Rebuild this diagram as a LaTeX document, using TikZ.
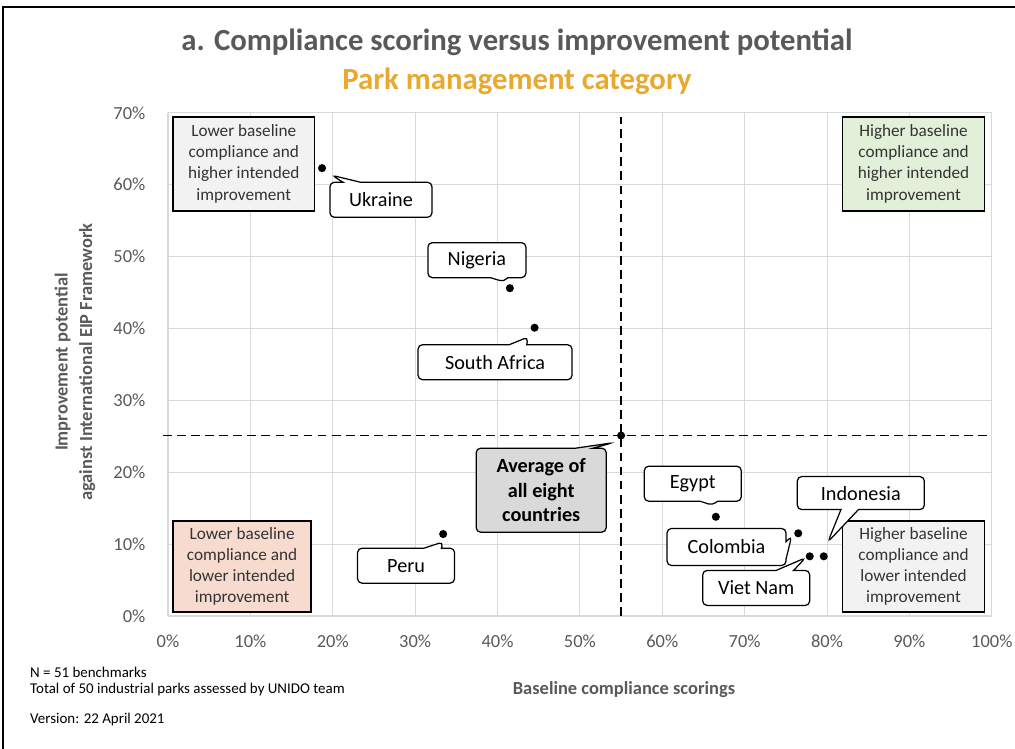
\documentclass[tikz,border=0pt]{standalone}
\usepackage{fontspec}
\setmainfont{Carlito}
\usepackage{tikz}
\usetikzlibrary{shapes.callouts,positioning}
\definecolor{txtgray}{HTML}{595959}
\definecolor{gridgray}{HTML}{D9D9D9}
\definecolor{parkgold}{RGB}{233,168,46}
\definecolor{boxgray}{HTML}{F2F2F2}
\definecolor{boxgreen}{HTML}{E2F0D9}
\definecolor{boxpeach}{RGB}{247,219,207}
\definecolor{avggray}{HTML}{D9D9D9}

\begin{document}
\begin{tikzpicture}[x=0.02cm, y=0.02cm,
      quad/.style={draw, line width=0.8pt, align=center, inner sep=0pt, minimum width=2.84cm, minimum height=1.88cm, text=black!80, font=\fontsize{9.8}{12}\selectfont},
      callbox/.style={rectangle callout, draw, fill=white, line width=0.7pt, rounded corners=2.5pt, callout pointer width=0.35cm, inner sep=0pt, minimum height=0.7cm, font=\fontsize{11.5}{14}\selectfont},
      dot/.style={circle, fill=black, inner sep=0pt, minimum size=4.6pt},
      ticklbl/.style={text=txtgray, font=\fontsize{10.5}{12}\selectfont},
      axtitle/.style={text=txtgray, align=center, font=\fontsize{10.5}{14}\selectfont\bfseries},
      note/.style={anchor=west, font=\fontsize{8.5}{10}\selectfont},
      avdash/.style={dash pattern=on 5pt off 3pt, line width=0.9pt}]
    \useasboundingbox (0,0) rectangle (1015,749);
    \draw[line width=1.1pt] (3,0) -- (3,742) -- (1015,742);

    \node[text=txtgray, font=\fontsize{17.5}{20}\selectfont\bfseries] (title) at (517,707) {a. Compliance scoring versus improvement potential};
    \node[text=parkgold, font=\fontsize{17.5}{20}\selectfont\bfseries, below=0pt of title] (subtitle) {Park management category};

    % plot area, in percent
    \begin{scope}[shift={(168,133)}, x=0.1648cm, y=0.1438cm]
      \foreach \i in {0,10,...,100}
        \draw[gridgray, line width=0.6pt] (\i,0) -- (\i,70);
      \foreach \j in {0,10,...,70}
        \draw[gridgray, line width=0.6pt] (0,\j) -- (100,\j);
      \foreach \i in {0,10,...,100}
        \node[ticklbl] at (\i,-3.5) {\i\%};
      \foreach \j in {0,10,...,70}
        \node[ticklbl, anchor=east] at (-2,\j) {\j\%};

      \draw[avdash] (55,0) -- (55,69.4);
      \draw[avdash] (-0.6,25.1) -- (100,25.1);

      \node[quad, fill=boxgray] (q-lowhigh) at (9.2,62.9) {Lower baseline\\compliance and\\higher intended\\improvement};
      \node[quad, fill=boxgreen] (q-highhigh) at (90.5,62.9) {Higher baseline\\compliance and\\higher intended\\improvement};
      \node[quad, fill=boxpeach, minimum width=2.76cm, minimum height=1.82cm] (q-lowlow) at (9.0,6.9) {Lower baseline\\compliance and\\lower intended\\improvement};
      \node[quad, fill=boxgray, minimum height=1.82cm] (q-highlow) at (90.5,6.9) {Higher baseline\\compliance and\\lower intended\\improvement};

      % countries
      \node[dot] (ukr) at (18.7,62.3) {};
      \node[dot] (nga) at (41.5,45.6) {};
      \node[dot] (zaf) at (44.5,40.1) {};
      \node[dot] (avg) at (55.0,25.1) {};
      \node[dot] (egy) at (66.5,13.8) {};
      \node[dot] (col) at (76.5,11.5) {};
      \node[dot] (vnm) at (77.9,8.3) {};
      \node[dot] (idn) at (79.6,8.3) {};
      \node[dot] (per) at (33.4,11.4) {};

      \coordinate (ukr-tip) at (19.9,61.3);
      \coordinate (nga-tip) at (40.8,46.5);
      \coordinate (zaf-tip) at (43.7,38.8);
      \coordinate (avg-tip) at (54.0,24.1);
      \coordinate (egy-tip) at (66.1,15.4);
      \coordinate (col-tip) at (75.7,11.1);
      \coordinate (vnm-tip) at (77.4,8.1);
      \coordinate (idn-tip) at (80.1,10.3);
      \coordinate (per-tip) at (33.4,10.3);

      \node[callbox, minimum width=2.04cm, callout absolute pointer={(ukr-tip)}] (ukr-lbl) at (25.85,57.9) {Ukraine};
      \node[callbox, minimum width=1.96cm, callout absolute pointer={(nga-tip)}] (nga-lbl) at (37.5,49.5) {Nigeria};
      \node[callbox, minimum width=3.08cm, callout absolute pointer={(zaf-tip)}] (zaf-lbl) at (39.7,35.3) {South Africa};
      \node[callbox, fill=avggray, align=center, minimum width=2.6cm, minimum height=1.68cm, font=\fontsize{11.5}{13.8}\selectfont\bfseries, callout absolute pointer={(avg-tip)}] (avg-lbl) at (45.3,17.5) {Average of\\all eight\\countries};
      \node[callbox, minimum width=1.94cm, callout absolute pointer={(egy-tip)}] (egy-lbl) at (63.7,18.4) {Egypt};
      \node[callbox, minimum width=2.38cm, minimum height=0.74cm, callout absolute pointer={(col-tip)}] (col-lbl) at (67.8,9.6) {Colombia};
      \node[callbox, minimum width=2.14cm, callout absolute pointer={(vnm-tip)}] (vnm-lbl) at (71.4,3.9) {Viet Nam};
      \node[callbox, minimum width=2.54cm, minimum height=0.66cm, callout absolute pointer={(idn-tip)}] (idn-lbl) at (84.1,17.1) {Indonesia};
      \node[callbox, minimum width=1.94cm, callout absolute pointer={(per-tip)}] (per-lbl) at (28.9,7.0) {Peru};
    \end{scope}

    \node[axtitle, rotate=90] (ytitle) at (75,387) {Improvement potential\\against International EIP Framework};
    \node[axtitle] (xtitle) at (624,59) {Baseline compliance scorings};

    \node[note] (nbench) at (24,77) {N = 51 benchmarks};
    \node[note] (parks) at (24,59) {Total of 50 industrial parks assessed by UNIDO team};
    \node[note] (version) at (24,29) {Version: 22 April 2021};
  \end{tikzpicture}
\end{document}
